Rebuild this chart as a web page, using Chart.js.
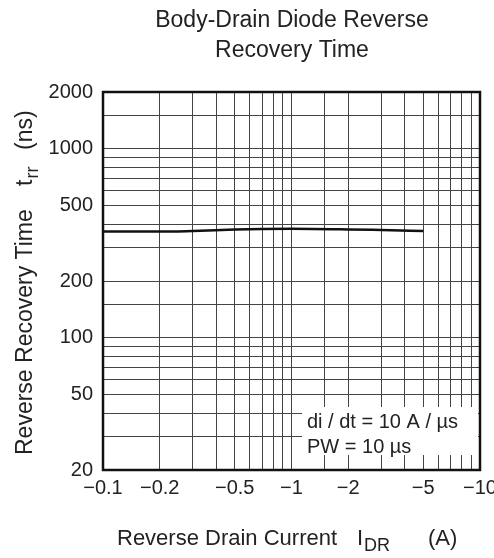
<!DOCTYPE html>
<html>
<head>
<meta charset="utf-8">
<script src="https://cdn.jsdelivr.net/npm/chart.js@4"></script>
<style>
  html, body { margin:0; padding:0; background:#fff; }
  #wrap { width:494px; height:558px; position:relative; }
</style>
</head>
<body>
<div id="wrap"><canvas id="c" width="494" height="558"></canvas></div>
<script>
// ── Data ─────────────────────────────────────────────────────────────────────
const currentA  = [0.1, 0.2, 0.3, 0.5, 0.7, 1, 2, 3, 5];          // |I_DR| (A)
const trrNs     = [365, 365, 368, 374, 377, 378, 375, 372, 368];  // t_rr (ns)
const xTickLbls = [0.1, 0.2, 0.5, 1, 2, 5, 10];
const yTickLbls = [20, 50, 100, 200, 500, 1000, 2000];
const noteLines = ['di / dt = 10 A / \u00b5s', 'PW = 10 \u00b5s'];

const FONT = '"Liberation Sans", Arial, sans-serif';
const near = (v, arr) => arr.some(a => Math.abs(v - a) / a < 1e-6);

function txt(ctx, s, x, y, size) {
  ctx.font = size + 'px ' + FONT;
  ctx.fillText(s, x, y);
  return x + ctx.measureText(s).width;
}

const decor = {
  id: 'decor',
  afterDraw(chart) {
    const {ctx, chartArea: a} = chart;
    ctx.save();
    // frame
    ctx.strokeStyle = '#111'; ctx.lineWidth = 2.5;
    ctx.strokeRect(a.left, a.top, a.right - a.left, a.bottom - a.top);
    // note box
    ctx.fillStyle = '#fff';
    ctx.fillRect(302, 407, 176, 48);
    ctx.fillStyle = '#222'; ctx.textBaseline = 'alphabetic'; ctx.textAlign = 'left';
    txt(ctx, noteLines[0], 307, 428, 20);
    txt(ctx, noteLines[1], 307, 453, 20);
    // title
    ctx.textAlign = 'center';
    txt(ctx, 'Body-Drain Diode Reverse', 292, 27, 23);
    txt(ctx, 'Recovery Time', 292, 57, 23);
    ctx.textAlign = 'left';
    // x title
    txt(ctx, 'Reverse Drain Current', 117, 545, 22);
    const e = txt(ctx, 'I', 357, 545, 22);
    txt(ctx, 'DR', e + 1, 551, 18);
    txt(ctx, '(A)', 428, 545, 22);
    // y title (rotated, reads bottom to top)
    ctx.translate(32, 0);
    ctx.rotate(-Math.PI / 2);
    txt(ctx, 'Reverse Recovery Time', -455, 0, 23);
    const e2 = txt(ctx, 't', -186, 0, 23);
    txt(ctx, 'rr', e2 + 1, 6, 18);
    txt(ctx, '(ns)', -150, 0, 23);
    ctx.restore();
  }
};

new Chart(document.getElementById('c'), {
  type: 'line',
  data: {
    datasets: [{
      data: currentA.map((x, i) => ({x, y: trrNs[i]})),
      borderColor: '#111', borderWidth: 2.5, pointRadius: 0,
      cubicInterpolationMode: 'monotone', fill: false
    }]
  },
  options: {
    responsive: false, animation: false,
    layout: { padding: {left: 0, right: 14, top: 92, bottom: 58} },
    plugins: { legend: {display: false}, tooltip: {enabled: false} },
    scales: {
      x: {
        type: 'logarithmic', min: 0.1, max: 10,
        afterFit: s => { s.height = 30; s.paddingLeft = 0; s.paddingRight = 0; },
        grid: { color: '#444', lineWidth: 1, drawTicks: false },
        border: { display: false },
        ticks: {
          autoSkip: false, maxRotation: 0, padding: 6, color: '#222',
          font: {family: FONT, size: 20},
          callback: v => near(v, xTickLbls) ? '\u2212' + v : ''
        }
      },
      y: {
        type: 'logarithmic', min: 20, max: 2000,
        afterFit: s => { s.width = 103; s.paddingTop = 0; s.paddingBottom = 0; },
        grid: { color: '#444', lineWidth: 1, drawTicks: false },
        border: { display: false },
        ticks: {
          autoSkip: false, padding: 10, color: '#222',
          font: {family: FONT, size: 20},
          callback: v => near(v, yTickLbls) ? String(v) : ''
        }
      }
    }
  },
  plugins: [decor]
});
</script>
</body>
</html>
